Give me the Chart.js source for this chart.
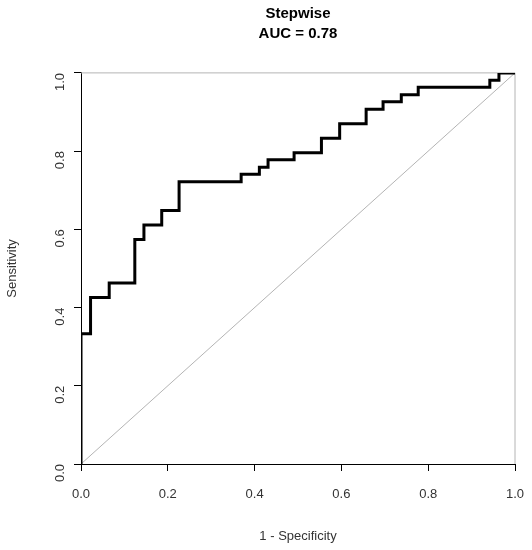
<!DOCTYPE html>
<html>
<head>
<meta charset="utf-8">
<script src="https://cdn.jsdelivr.net/npm/chart.js@4.4.1/dist/chart.umd.min.js"></script>
<style>
  html, body { margin: 0; padding: 0; background: #fff; }
  #roc { display: block; }
</style>
</head>
<body>
<canvas id="roc" width="532" height="550"></canvas>
<script>
// ROC curve points (1 - specificity, sensitivity)
const fpr = [0, 0, 0.022, 0.065, 0.124, 0.145, 0.186, 0.226, 0.369, 0.411, 0.431, 0.491, 0.554, 0.596, 0.657, 0.696, 0.738, 0.777, 0.942, 0.963, 1];
const sens = [0, 0.333, 0.426, 0.463, 0.574, 0.611, 0.648, 0.722, 0.741, 0.759, 0.778, 0.796, 0.833, 0.870, 0.907, 0.926, 0.944, 0.963, 0.981, 1, 1];
const chanceX = [0, 1];
const chanceY = [0, 1];
const tickValues = [0, 0.2, 0.4, 0.6, 0.8, 1.0];
const titulo = ['Stepwise', 'AUC = 0.78'];

const fonte = "'Liberation Sans', Arial, sans-serif";

// cinza no topo e na direita (y = 1 e x = 1)
const bordaCinza = {
    id: 'bordaCinza',
    beforeDatasetsDraw(chart) {
        const { ctx, scales: { x, y } } = chart;
        ctx.save();
        ctx.strokeStyle = '#b4b4b4';
        ctx.lineWidth = 1;
        ctx.beginPath();
        ctx.moveTo(x.getPixelForValue(0), y.getPixelForValue(1));
        ctx.lineTo(x.getPixelForValue(1), y.getPixelForValue(1));
        ctx.lineTo(x.getPixelForValue(1), y.getPixelForValue(0));
        ctx.stroke();
        ctx.restore();
    }
};

const eixo = (titleText) => ({
    type: 'linear',
    min: 0,
    max: 1,
    afterBuildTicks: (scale) => {
        scale.ticks = tickValues.map(v => ({ value: v }));
    },
    ticks: {
        color: '#333',
        font: { family: fonte, size: 13 },
        callback: (v) => v.toFixed(1)
    },
    grid: {
        display: true,
        drawOnChartArea: false,
        drawTicks: true,
        tickLength: 7,
        color: '#000',
        lineWidth: 1
    },
    border: { display: true, color: '#000', width: 1 },
    title: {
        display: true,
        text: titleText,
        color: '#333',
        font: { family: fonte, size: 13 }
    }
});

const escalaX = eixo('1 - Specificity');
escalaX.ticks.padding = 16;
escalaX.ticks.maxRotation = 0;
escalaX.title.padding = { top: 0, bottom: 6 };
escalaX.afterFit = (scale) => {
    scale.height = 86;
    scale.paddingRight = 0;
};

const escalaY = eixo('Sensitivity');
escalaY.ticks.minRotation = 90;
escalaY.ticks.maxRotation = 90;
escalaY.ticks.padding = 14;
escalaY.title.padding = { top: 5, bottom: 0 };
escalaY.afterFit = (scale) => { scale.width = 81; };

new Chart(document.getElementById('roc'), {
    type: 'line',
    data: {
        datasets: [
            {
                label: 'ROC',
                data: fpr.map((v, i) => ({ x: v, y: sens[i] })),
                borderColor: '#000',
                borderWidth: 3,
                stepped: 'before',
                pointRadius: 0,
                fill: false
            },
            {
                label: 'Chance',
                data: chanceX.map((v, i) => ({ x: v, y: chanceY[i] })),
                borderColor: '#b4b4b4',
                borderWidth: 1,
                pointRadius: 0,
                fill: false
            }
        ]
    },
    options: {
        responsive: false,
        animation: false,
        devicePixelRatio: 1,
        layout: { padding: { top: 0, right: 17, bottom: 0, left: 0 } },
        scales: { x: escalaX, y: escalaY },
        plugins: {
            legend: { display: false },
            tooltip: { enabled: false },
            title: {
                display: true,
                fullSize: false,
                text: titulo,
                color: '#000',
                font: { family: fonte, size: 15, weight: 'bold', lineHeight: 1.33 },
                padding: { top: 4, bottom: 29 }
            }
        }
    },
    plugins: [bordaCinza]
});
</script>
</body>
</html>
